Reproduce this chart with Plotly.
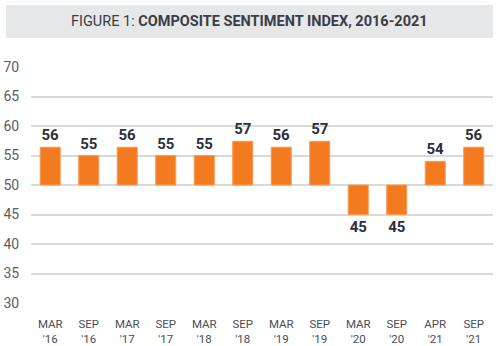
import plotly.graph_objects as go

# Survey periods and composite sentiment index readings
periods = ["MAR<br>'16", "SEP<br>'16", "MAR<br>'17", "SEP<br>'17", "MAR<br>'18", "SEP<br>'18",
           "MAR<br>'19", "SEP<br>'19", "MAR<br>'20", "SEP<br>'20", "APR<br>'21", "SEP<br>'21"]
index_values = [56.4, 55.0, 56.4, 55.0, 55.0, 57.4, 56.4, 57.4, 45.0, 45.0, 54.0, 56.4]
baseline = 50
y_ticks = [30, 35, 40, 45, 50, 55, 60, 65, 70]

FONT = "Roboto, Liberation Sans, sans-serif"
ORANGE = "#f47a20"
NAVY = "#2b2f3c"

fig = go.Figure()
fig.add_trace(go.Bar(
    x=periods,
    y=[v - baseline for v in index_values],
    base=baseline,
    customdata=index_values,
    texttemplate="<b>%{customdata:.0f}</b>",
    textposition="outside",
    cliponaxis=False,
    textfont=dict(family=FONT, size=15, color=NAVY),
    marker=dict(color=ORANGE, line=dict(color="#f89a52", width=1)),
    hoverinfo="skip",
))

# Grey title band
fig.add_shape(type="rect", xref="paper", yref="paper",
              x0=-0.054, x1=1.0, y0=1.123, y1=1.263,
              fillcolor="#e6e7e9", line=dict(width=0), layer="below")
fig.add_annotation(xref="paper", yref="paper", x=0.474, y=1.191,
                   text="FIGURE 1: <b>COMPOSITE SENTIMENT INDEX, 2016-2021</b>",
                   showarrow=False, xanchor="center", yanchor="middle",
                   font=dict(family=FONT, size=14.5, color="#3a3d46"))

fig.update_layout(
    width=500, height=346,
    margin=dict(l=31, r=7, t=67, b=43, autoexpand=False),
    paper_bgcolor="white", plot_bgcolor="white",
    bargap=0.48,
    showlegend=False,
    xaxis=dict(
        type="category",
        automargin=False,
        tickfont=dict(family=FONT, size=11.5, color="#4a4d55"),
        ticks="outside", ticklen=10, tickcolor="rgba(0,0,0,0)",
        showgrid=False, zeroline=False, showline=False,
    ),
    yaxis=dict(
        range=[30, 70],
        automargin=False,
        tickvals=y_ticks,
        tickfont=dict(family=FONT, size=14, color="#5a5d64"),
        gridcolor="#d9d9d9", gridwidth=1.5,
        zeroline=False, showline=False,
        ticks="outside", ticklen=8, tickcolor="rgba(0,0,0,0)",
    ),
)

fig.write_html("out.html")
